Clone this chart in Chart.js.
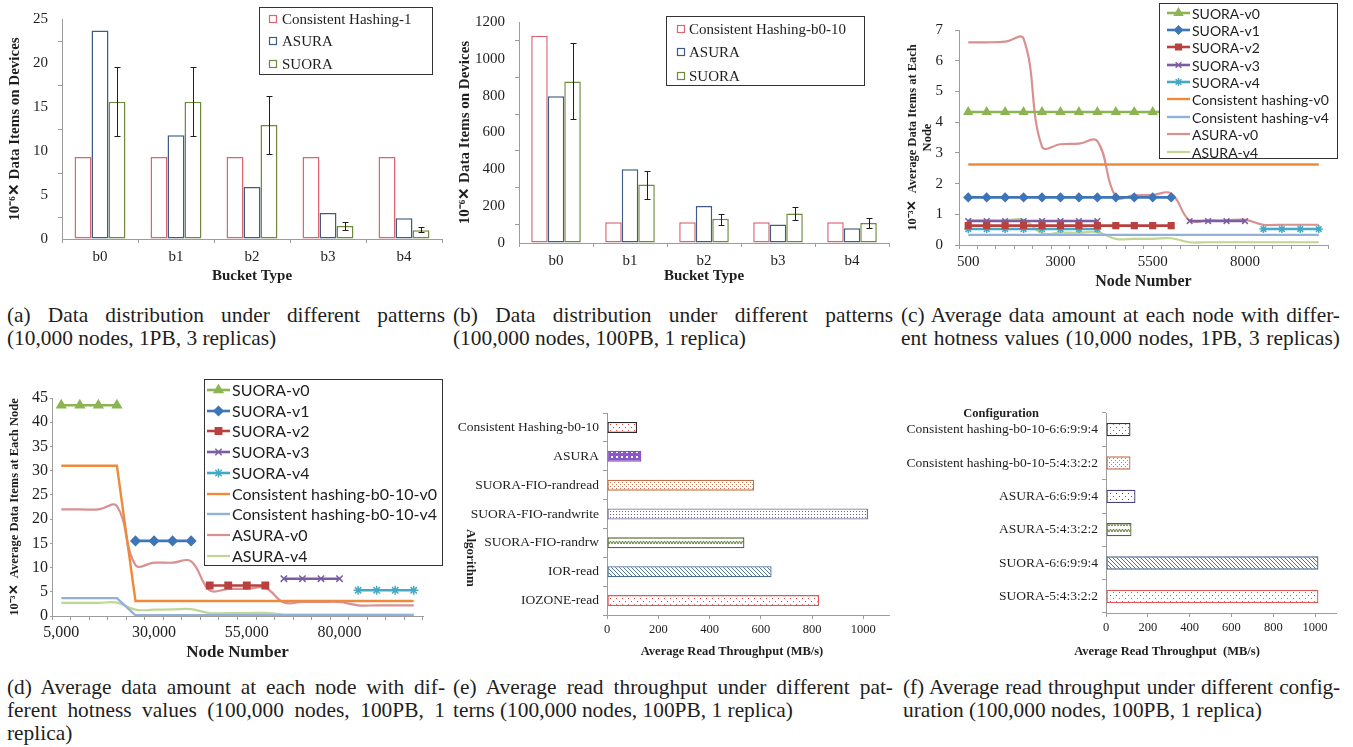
<!DOCTYPE html>
<html>
<head>
<meta charset="utf-8">
<script src="https://cdn.jsdelivr.net/npm/chart.js@4.4.1/dist/chart.umd.min.js"></script>
<style>
  body { margin: 0; background: #fff; width: 1353px; height: 747px; position: relative; overflow: hidden;
         font-family: "Liberation Serif", "Times New Roman", serif; color: #1e1e1e; }
  canvas { position: absolute; }
  .cap { position: absolute; font-size: 21.4px; line-height: 23px; }
  .cap div { white-space: nowrap; }
  .cap .j { text-align: justify; text-align-last: justify; }
</style>
</head>
<body>

<canvas id="chartA" width="450" height="290" style="left:0;top:0"></canvas>
<canvas id="chartB" width="443" height="290" style="left:450px;top:0"></canvas>
<canvas id="chartC" width="460" height="292" style="left:893px;top:0"></canvas>
<canvas id="chartD" width="450" height="300" style="left:0;top:370px"></canvas>
<canvas id="chartE" width="443" height="280" style="left:450px;top:390px"></canvas>
<canvas id="chartF" width="460" height="280" style="left:893px;top:390px"></canvas>

<div class="cap" style="left:7px;top:304px;width:438px">
  <div class="j">(a) Data distribution under different patterns</div>
  <div>(10,000 nodes, 1PB, 3 replicas)</div>
</div>
<div class="cap" style="left:453px;top:304px;width:440px">
  <div class="j">(b) Data distribution under different patterns</div>
  <div>(100,000 nodes, 100PB, 1 replica)</div>
</div>
<div class="cap" style="left:901px;top:304px;width:439px">
  <div class="j">(c) Average data amount at each node with differ-</div>
  <div class="j">ent hotness values (10,000 nodes, 1PB, 3 replicas)</div>
</div>
<div class="cap" style="left:7px;top:676px;width:438px">
  <div class="j">(d) Average data amount at each node with dif-</div>
  <div class="j">ferent hotness values (100,000 nodes, 100PB, 1</div>
  <div>replica)</div>
</div>
<div class="cap" style="left:453px;top:676px;width:440px">
  <div class="j">(e) Average read throughput under different pat-</div>
  <div>terns (100,000 nodes, 100PB, 1 replica)</div>
</div>
<div class="cap" style="left:903px;top:676px;width:437px">
  <div class="j" style="letter-spacing:-0.15px">(f) Average read throughput under different config-</div>
  <div>uration (100,000 nodes, 100PB, 1 replica)</div>
</div>

<script>
// ---- data: (a) 10,000 nodes ----
const bucketLabels = ['b0', 'b1', 'b2', 'b3', 'b4'];
const distA_hash = [9.33, 9.33, 9.33, 9.33, 9.33];
const distA_asura = [23.7, 11.8, 5.9, 2.95, 2.35];
const distA_suora = [15.6, 15.6, 12.95, 1.48, 1.0];
const distA_suoraLow = [11.75, 11.75, 9.7, 1.07, 0.75];
const distA_suoraHigh = [19.5, 19.5, 16.3, 1.93, 1.35];

// ---- data: (b) 100,000 nodes ----
const distB_hash = [1125, 113, 113, 113, 113];
const distB_asura = [797, 401, 201, 101, 80];
const distB_suora = [877, 318, 131, 160, 109];
const distB_suoraLow = [672, 241, 96, 123, 84];
const distB_suoraHigh = [1086, 390, 160, 196, 134];

// ---- data: (c) hotness, 10,000 nodes ----
const nodesC = ['500', '1000', '1500', '2000', '2500', '3000', '3500', '4000', '4500', '5000',
                '5500', '6000', '6500', '7000', '7500', '8000', '8500', '9000', '9500', '10000'];
const suoraC_v0 = [4.33, 4.33, 4.33, 4.33, 4.33, 4.33, 4.33, 4.33, 4.33, 4.33, 4.33, 4.33, null, null, null, null, null, null, null, null];
const suoraC_v1 = [1.55, 1.55, 1.55, 1.55, 1.55, 1.55, 1.55, 1.55, 1.55, 1.55, 1.55, 1.55, null, null, null, null, null, null, null, null];
const suoraC_v2 = [0.63, 0.63, 0.63, 0.63, 0.63, 0.63, 0.63, 0.63, 0.63, 0.63, 0.63, 0.63, null, null, null, null, null, null, null, null];
const suoraC_v3 = [0.78, 0.78, 0.78, 0.78, 0.78, 0.78, 0.78, 0.78, null, null, null, null, 0.78, 0.78, 0.78, 0.78, null, null, null, null];
const suoraC_v4 = [0.52, 0.52, 0.52, 0.52, 0.52, 0.52, 0.52, 0.52, null, null, null, null, null, null, null, null, 0.52, 0.52, 0.52, 0.52];
const hashC_v0 = [2.62, 2.62, 2.62, 2.62, 2.62, 2.62, 2.62, 2.62, 2.62, 2.62, 2.62, 2.62, 2.62, 2.62, 2.62, 2.62, 2.62, 2.62, 2.62, 2.62];
const hashC_v4 = [0.33, 0.33, 0.33, 0.33, 0.33, 0.33, 0.33, 0.33, 0.33, 0.33, 0.33, 0.33, 0.33, 0.33, 0.33, 0.33, 0.33, 0.33, 0.33, 0.33];
const asuraC_v0 = [6.6, 6.6, 6.62, 6.72, 3.2, 3.28, 3.3, 3.38, 1.57, 1.62, 1.63, 1.68, 0.8, 0.8, 0.8, 0.82, 0.66, 0.66, 0.66, 0.66];
const asuraC_v4 = [0.8, 0.8, 0.8, 0.82, 0.38, 0.4, 0.4, 0.42, 0.2, 0.2, 0.2, 0.22, 0.09, 0.09, 0.09, 0.09, 0.09, 0.09, 0.09, 0.09];

// ---- data: (d) hotness, 100,000 nodes ----
const nodesD = ['5,000', '10,000', '15,000', '20,000', '25,000', '30,000', '35,000', '40,000', '45,000', '50,000',
                '55,000', '60,000', '65,000', '70,000', '75,000', '80,000', '85,000', '90,000', '95,000', '100,000'];
const suoraD_v0 = [43.5, 43.5, 43.5, 43.5, null, null, null, null, null, null, null, null, null, null, null, null, null, null, null, null];
const suoraD_v1 = [null, null, null, null, 15.5, 15.5, 15.5, 15.5, null, null, null, null, null, null, null, null, null, null, null, null];
const suoraD_v2 = [null, null, null, null, null, null, null, null, 6.3, 6.3, 6.3, 6.3, null, null, null, null, null, null, null, null];
const suoraD_v3 = [null, null, null, null, null, null, null, null, null, null, null, null, 7.7, 7.7, 7.7, 7.7, null, null, null, null];
const suoraD_v4 = [null, null, null, null, null, null, null, null, null, null, null, null, null, null, null, null, 5.3, 5.3, 5.3, 5.3];
const hashD_v0 = [31, 31, 31, 31, 3.1, 3.1, 3.1, 3.1, 3.1, 3.1, 3.1, 3.1, 3.1, 3.1, 3.1, 3.1, 3.1, 3.1, 3.1, 3.1];
const hashD_v4 = [3.7, 3.7, 3.7, 3.7, 0.15, 0.15, 0.15, 0.15, 0.15, 0.15, 0.15, 0.15, 0.15, 0.15, 0.15, 0.15, 0.15, 0.15, 0.15, 0.15];
const asuraD_v0 = [22, 22, 22, 22.7, 10.5, 11, 11, 11.3, 5.3, 5.6, 5.6, 5.8, 2.8, 2.9, 2.9, 2.9, 2.2, 2.2, 2.2, 2.2];
const asuraD_v4 = [2.7, 2.7, 2.7, 2.75, 1.3, 1.3, 1.35, 1.4, 0.6, 0.6, 0.6, 0.65, 0.3, 0.3, 0.3, 0.3, 0.3, 0.3, 0.3, 0.3];

// ---- data: (e) / (f) throughput ----
const algoLabels = ['Consistent Hashing-b0-10', 'ASURA', 'SUORA-FIO-randread', 'SUORA-FIO-randwrite',
                    'SUORA-FIO-randrw', 'IOR-read', 'IOZONE-read'];
const algoThroughput = [117, 134, 574, 1018, 536, 642, 827];
const configLabels = ['Consistent hashing-b0-10-6:6:9:9:4', 'Consistent hashing-b0-10-5:4:3:2:2', 'ASURA-6:6:9:9:4',
                      'ASURA-5:4:3:2:2', 'SUORA-6:6:9:9:4', 'SUORA-5:4:3:2:2'];
const configThroughput = [117, 117, 141, 122, 1016, 1016];

const SERIF = '"Liberation Serif", "Times New Roman", serif';
const SANS = 'Lato, "Liberation Sans", sans-serif';
const AXIS = '#9c9c9c';
const INK = '#1e1e1e';

Chart.defaults.font.family = SERIF;
Chart.defaults.color = INK;
Chart.defaults.animation = false;
Chart.defaults.responsive = false;
Chart.defaults.devicePixelRatio = 1;
Chart.defaults.plugins.legend.display = false;
Chart.defaults.plugins.tooltip.enabled = false;

const plainNumber = v => String(v);

// fill patterns for the throughput bars
function pattern(kind, fg, bg) {
  const c = document.createElement('canvas');
  const g = c.getContext('2d');
  const s = { sparse: 6, dense: 4, fine: 3, holes: 5, zigzag: 6, diag: 4 }[kind];
  c.width = c.height = s;
  g.fillStyle = bg; g.fillRect(0, 0, s, s);
  g.fillStyle = fg; g.strokeStyle = fg; g.lineWidth = 1;
  if (kind === 'sparse') { g.fillRect(1, 1, 1, 1); g.fillRect(4, 4, 1, 1); }
  if (kind === 'dense') { g.fillRect(0, 0, 1, 1); g.fillRect(2, 2, 1, 1); }
  if (kind === 'fine') { g.fillRect(1, 1, 1, 1); }
  if (kind === 'holes') { g.fillRect(1, 1, 2, 2); }
  if (kind === 'zigzag') { g.beginPath(); g.moveTo(0, 4); g.lineTo(1.5, 1); g.lineTo(3, 4); g.lineTo(4.5, 1); g.lineTo(6, 4); g.stroke(); }
  if (kind === 'diag') { g.beginPath(); g.moveTo(0, 0); g.lineTo(4, 4); g.moveTo(-1, 3); g.lineTo(1, 5); g.moveTo(3, -1); g.lineTo(5, 1); g.stroke(); }
  return g.createPattern(c, 'repeat');
}

// error bars drawn through the y scale
function errorBars(datasetIndex, low, high, cap) {
  return {
    id: 'errorBars',
    afterDatasetsDraw(chart) {
      const meta = chart.getDatasetMeta(datasetIndex);
      const ys = chart.scales.y, ctx = chart.ctx;
      ctx.save();
      ctx.strokeStyle = INK; ctx.lineWidth = 1;
      meta.data.forEach((bar, i) => {
        const x = Math.round(bar.x) + 0.5;
        const yLo = Math.round(ys.getPixelForValue(low[i])) + 0.5;
        const yHi = Math.round(ys.getPixelForValue(high[i])) + 0.5;
        ctx.beginPath();
        ctx.moveTo(x, yLo); ctx.lineTo(x, yHi);
        ctx.moveTo(x - cap, yLo); ctx.lineTo(x + cap, yLo);
        ctx.moveTo(x - cap, yHi); ctx.lineTo(x + cap, yHi);
        ctx.stroke();
      });
      ctx.restore();
    }
  };
}

// boxed legend like the spreadsheet one
function boxLegend(o) {
  return {
    id: 'boxLegend',
    afterDraw(chart) {
      const ctx = chart.ctx;
      ctx.save();
      ctx.fillStyle = '#fff';
      ctx.fillRect(o.x, o.y, o.w, o.h);
      ctx.strokeStyle = '#333'; ctx.lineWidth = 1;
      ctx.strokeRect(o.x + 0.5, o.y + 0.5, o.w, o.h);
      ctx.font = o.font;
      ctx.textBaseline = 'middle';
      chart.data.datasets.forEach((ds, i) => {
        const cy = Math.round(o.y0 + i * o.step);
        if (o.kind === 'bar') {
          ctx.fillStyle = '#fff';
          ctx.strokeStyle = ds.borderColor; ctx.lineWidth = 1.2;
          ctx.fillRect(o.mx - 4, cy - 4, 8, 8);
          ctx.strokeRect(o.mx - 3.5, cy - 3.5, 7, 7);
        } else {
          ctx.strokeStyle = ds.borderColor; ctx.lineWidth = ds.borderWidth;
          ctx.beginPath(); ctx.moveTo(o.mx, cy); ctx.lineTo(o.mx + o.len, cy); ctx.stroke();
          if (ds.pointRadius > 0 && Chart.helpers && Chart.helpers.drawPoint) {
            ctx.fillStyle = ds.pointBackgroundColor || ds.borderColor;
            ctx.strokeStyle = ds.borderColor;
            ctx.lineWidth = ds.pointBorderWidth || 1;
            Chart.helpers.drawPoint(ctx, { pointStyle: ds.pointStyle, radius: ds.pointRadius, rotation: 0,
                                           borderWidth: ds.pointBorderWidth || 1 }, o.mx + o.len / 2, cy);
          }
        }
        ctx.fillStyle = INK;
        ctx.fillText(ds.label, o.tx, cy + 1);
      });
      ctx.restore();
    }
  };
}

// loose text (titles that sit off the axis)
function extraText(items) {
  return {
    id: 'extraText',
    afterDraw(chart) {
      const ctx = chart.ctx;
      items.forEach(t => {
        ctx.save();
        ctx.translate(t.x, t.y);
        ctx.rotate(t.rot || 0);
        ctx.font = t.font;
        ctx.fillStyle = INK;
        ctx.textAlign = 'center';
        ctx.textBaseline = 'middle';
        ctx.fillText(t.text, 0, 0);
        ctx.restore();
      });
    }
  };
}

function edge(tick) {
  return {
    grid: { offset: true, drawOnChartArea: false, tickLength: tick, color: AXIS },
    border: { color: AXIS, width: 1 }
  };
}

// ---------- (a) ----------
const RED = '#dc6470', NAVY = '#3d5c86', OLIVE = '#6e8b3d';
const barStyle = { backgroundColor: '#fff', borderWidth: 1.5, borderSkipped: false, categoryPercentage: 0.67, barPercentage: 1 };

new Chart(document.getElementById('chartA'), {
  type: 'bar',
  data: {
    labels: bucketLabels,
    datasets: [
      Object.assign({ label: 'Consistent Hashing-1', data: distA_hash, borderColor: RED }, barStyle),
      Object.assign({ label: 'ASURA', data: distA_asura, borderColor: NAVY }, barStyle),
      Object.assign({ label: 'SUORA', data: distA_suora, borderColor: OLIVE }, barStyle)
    ]
  },
  options: {
    layout: { padding: { top: 14, right: 8, left: 0, bottom: 0 } },
    scales: {
      x: Object.assign(edge(4), {
        ticks: { font: { size: 15 }, padding: 5 },
        title: { display: true, text: 'Bucket Type', font: { size: 15, weight: 'bold' }, padding: { top: 0, bottom: 5 } },
        afterFit: s => { s.height = 51; }
      }),
      y: Object.assign(edge(4), {
        min: 0, max: 25,
        ticks: { stepSize: 5, font: { size: 15 }, padding: 10, callback: plainNumber },
        title: { display: true, text: '10⁻⁶✕ Data Items on Devices', font: { size: 15, weight: 'bold' }, padding: { top: 6, bottom: 0 } },
        afterFit: s => { s.width = 62; }
      })
    }
  },
  plugins: [errorBars(2, distA_suoraLow, distA_suoraHigh, 3),
            boxLegend({ kind: 'bar', x: 259, y: 7, w: 173, h: 67, y0: 18.5, step: 22.5, mx: 273, tx: 282, font: '15px ' + SERIF })]
});

// ---------- (b) ----------
new Chart(document.getElementById('chartB'), {
  type: 'bar',
  data: {
    labels: bucketLabels,
    datasets: [
      Object.assign({ label: 'Consistent Hashing-b0-10', data: distB_hash, borderColor: RED }, barStyle),
      Object.assign({ label: 'ASURA', data: distB_asura, borderColor: NAVY }, barStyle),
      Object.assign({ label: 'SUORA', data: distB_suora, borderColor: OLIVE }, barStyle)
    ]
  },
  options: {
    layout: { padding: { top: 22, right: 4, left: 0, bottom: 0 } },
    scales: {
      x: Object.assign(edge(4), {
        ticks: { font: { size: 15 }, padding: 5 },
        title: { display: true, text: 'Bucket Type', font: { size: 15, weight: 'bold' }, padding: { top: 0, bottom: 5 } },
        afterFit: s => { s.height = 47; }
      }),
      y: Object.assign(edge(4), {
        min: 0, max: 1200,
        ticks: { stepSize: 200, font: { size: 15 }, padding: 10, callback: plainNumber },
        title: { display: true, text: '10⁻⁶✕ Data Items on Devices', font: { size: 15, weight: 'bold' }, padding: { top: 6, bottom: 0 } },
        afterFit: s => { s.width = 69; }
      })
    }
  },
  plugins: [errorBars(2, distB_suoraLow, distB_suoraHigh, 3),
            boxLegend({ kind: 'bar', x: 216, y: 16, w: 198, h: 69, y0: 28.5, step: 23.5, mx: 231, tx: 239, font: '15px ' + SERIF })]
});

// ---------- line chart colours ----------
const C_V0 = '#8cb453', C_V1 = '#3e75b6', C_V2 = '#b8413f', C_V3 = '#7a5ea0', C_V4 = '#45a9c3';
const C_H0 = '#ee8a3c', C_H4 = '#93b1d8', C_A0 = '#d99090', C_A4 = '#bfd694';

function lineSets(d, r) {
  const suora = (label, data, color, style, extra) => Object.assign({
    label, data, borderColor: color, backgroundColor: color, pointBackgroundColor: color,
    pointStyle: style, pointRadius: r, pointBorderWidth: 1.5, borderWidth: 2.6, tension: 0, spanGaps: false
  }, extra || {});
  const plain = (label, data, color, tension, width) => ({
    label, data, borderColor: color, backgroundColor: color, pointRadius: 0, borderWidth: width, tension
  });
  return [
    suora('SUORA-v0', d.v0, C_V0, 'triangle', { pointRadius: r + 0.5 }),
    suora('SUORA-v1', d.v1, C_V1, 'rectRot'),
    suora('SUORA-v2', d.v2, C_V2, 'rect'),
    suora('SUORA-v3', d.v3, C_V3, 'crossRot'),
    suora('SUORA-v4', d.v4, C_V4, 'star'),
    plain(d.h0label, d.h0, C_H0, 0, 2.4),
    plain(d.h4label, d.h4, C_H4, 0, 2.4),
    plain('ASURA-v0', d.a0, C_A0, 0.4, 2.2),
    plain('ASURA-v4', d.a4, C_A4, 0.4, 2.2)
  ];
}

function everyFifth(value, index) {
  return index % 5 === 0 ? this.getLabelForValue(value) : '';
}

// ---------- (c) ----------
new Chart(document.getElementById('chartC'), {
  type: 'line',
  data: {
    labels: nodesC,
    datasets: lineSets({ v0: suoraC_v0, v1: suoraC_v1, v2: suoraC_v2, v3: suoraC_v3, v4: suoraC_v4,
                         h0: hashC_v0, h4: hashC_v4, a0: asuraC_v0, a4: asuraC_v4,
                         h0label: 'Consistent hashing-v0', h4label: 'Consistent hashing-v4' }, 4)
  },
  options: {
    layout: { padding: { top: 30, right: 25, left: 0, bottom: 0 } },
    scales: {
      x: Object.assign(edge(4), {
        offset: true,
        ticks: { font: { size: 15 }, padding: 4, autoSkip: false, maxRotation: 0, callback: everyFifth },
        title: { display: true, text: 'Node Number', font: { size: 16, weight: 'bold' }, padding: { top: 0, bottom: 1 } },
        afterFit: s => { s.height = 47; }
      }),
      y: Object.assign(edge(4), {
        min: 0, max: 7,
        grid: { drawOnChartArea: false, tickLength: 4, color: AXIS },
        ticks: { stepSize: 1, font: { size: 15 }, padding: 12 },
        title: { display: true, text: ['10⁻³✕  Average Data Items at Each', 'Node'], font: { size: 12.5, weight: 'bold' },
                 padding: { top: 12, bottom: 0 } },
        afterFit: s => { s.width = 66; }
      })
    }
  },
  plugins: [boxLegend({ kind: 'line', x: 266, y: 3, w: 178, h: 155, y0: 12.7, step: 17.35, mx: 274, len: 23, tx: 299,
                        font: '14px ' + SANS })]
});

// ---------- (d) ----------
new Chart(document.getElementById('chartD'), {
  type: 'line',
  data: {
    labels: nodesD,
    datasets: lineSets({ v0: suoraD_v0, v1: suoraD_v1, v2: suoraD_v2, v3: suoraD_v3, v4: suoraD_v4,
                         h0: hashD_v0, h4: hashD_v4, a0: asuraD_v0, a4: asuraD_v4,
                         h0label: 'Consistent hashing-b0-10-v0', h4label: 'Consistent hashing-b0-10-v4' }, 4.5)
  },
  options: {
    layout: { padding: { top: 28, right: 27, left: 0, bottom: 0 } },
    scales: {
      x: Object.assign(edge(4), {
        offset: true,
        ticks: { font: { size: 16 }, padding: 3, autoSkip: false, maxRotation: 0, callback: everyFifth },
        title: { display: true, text: 'Node Number', font: { size: 17, weight: 'bold' }, padding: { top: 0, bottom: 7 } },
        afterFit: s => { s.height = 54; }
      }),
      y: Object.assign(edge(2), {
        min: 0, max: 45,
        grid: { drawOnChartArea: false, tickLength: 2, color: AXIS },
        ticks: { stepSize: 5, font: { size: 16 }, padding: 2 },
        title: { display: true, text: '10⁻³✕  Average Data Items at Each Node', font: { size: 12.5, weight: 'bold' },
                 padding: { top: 7.5, bottom: 0 } },
        afterFit: s => { s.width = 52; }
      })
    }
  },
  plugins: [boxLegend({ kind: 'line', x: 204, y: 9, w: 238, h: 186, y0: 20, step: 20.7, mx: 207, len: 23, tx: 232,
                        font: '16px ' + SANS })]
});

// ---------- (e) ----------
const algoFill = [pattern('sparse', '#d94040', '#fff'), pattern('holes', '#fff', '#8a58c4'), pattern('dense', '#c8764e', '#fff'),
                  pattern('fine', '#6d6290', '#fff'), pattern('zigzag', '#5f7f34', '#fff'), pattern('diag', '#4e7096', '#fff'),
                  pattern('sparse', '#e04848', '#fff')];
const algoEdge = ['#2a2a2a', '#8650c0', '#c0704a', '#7a6c98', '#4f6b2a', '#4a6b8c', '#e05555'];

new Chart(document.getElementById('chartE'), {
  type: 'bar',
  data: {
    labels: algoLabels,
    datasets: [{ label: 'Average Read Throughput (MB/s)', data: algoThroughput, backgroundColor: algoFill, borderColor: algoEdge,
                 borderWidth: 1.3, borderSkipped: false, categoryPercentage: 0.38, barPercentage: 1 }]
  },
  options: {
    indexAxis: 'y',
    layout: { padding: { top: 23, right: 4, left: 0, bottom: 0 } },
    scales: {
      x: Object.assign(edge(4), {
        min: 0, max: 1100,
        grid: { drawOnChartArea: false, tickLength: 4, color: AXIS },
        ticks: { stepSize: 200, includeBounds: false, font: { size: 12.5 }, padding: 3, callback: plainNumber },
        afterFit: s => { s.height = 55; }
      }),
      y: Object.assign(edge(4), {
        ticks: { font: { size: 13.5 }, padding: 4 },
        afterFit: s => { s.width = 157; }
      })
    }
  },
  plugins: [extraText([
    { text: 'Algorithm', x: 20, y: 168, rot: Math.PI / 2, font: 'bold 13px ' + SERIF },
    { text: 'Average Read Throughput (MB/s)', x: 282, y: 262, font: 'bold 12.5px ' + SERIF }
  ])]
});

// ---------- (f) ----------
const configFill = [pattern('sparse', '#d94040', '#fff'), pattern('dense', '#c8764e', '#fff'), pattern('sparse', '#4a4a9a', '#fff'),
                    pattern('zigzag', '#5f7f34', '#fff'), pattern('diag', '#4e7096', '#fff'), pattern('sparse', '#e04848', '#fff')];
const configEdge = ['#333333', '#c0704a', '#4a3f7a', '#4f6b2a', '#4a6b8c', '#e05555'];

new Chart(document.getElementById('chartF'), {
  type: 'bar',
  data: {
    labels: configLabels,
    datasets: [{ label: 'Average Read Throughput (MB/s)', data: configThroughput, backgroundColor: configFill, borderColor: configEdge,
                 borderWidth: 1.3, borderSkipped: false, categoryPercentage: 0.4, barPercentage: 1 }]
  },
  options: {
    indexAxis: 'y',
    layout: { padding: { top: 23, right: 17, left: 0, bottom: 0 } },
    scales: {
      x: Object.assign(edge(4), {
        min: 0, max: 1100,
        grid: { drawOnChartArea: false, tickLength: 4, color: AXIS },
        ticks: { stepSize: 200, includeBounds: false, font: { size: 12.5 }, padding: 3, callback: plainNumber },
        afterFit: s => { s.height = 57; }
      }),
      y: Object.assign(edge(4), {
        ticks: { font: { size: 13.5 }, padding: 4 },
        afterFit: s => { s.width = 213; }
      })
    }
  },
  plugins: [extraText([
    { text: 'Configuration', x: 108, y: 24, font: 'bold 12.5px ' + SERIF },
    { text: 'Average Read Throughput  (MB/s)', x: 274, y: 262, font: 'bold 12.5px ' + SERIF }
  ])]
});
</script>
</body>
</html>
